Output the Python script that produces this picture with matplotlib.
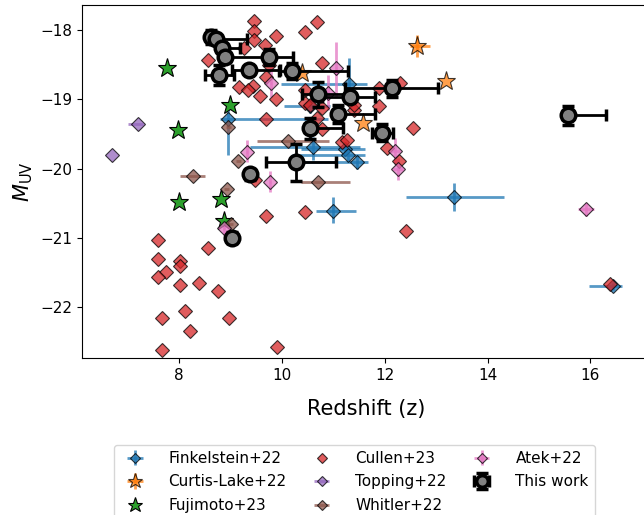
import matplotlib
matplotlib.use("Agg")
import matplotlib.pyplot as plt
import numpy as np

# This work
work_z = [8.62, 8.71, 8.84, 8.89, 9.75, 9.36, 8.78, 10.19, 10.69, 11.32, 12.13,
          11.09, 10.54, 11.94, 10.28, 9.38, 9.03, 15.57]
work_m = [-18.10, -18.13, -18.26, -18.39, -18.39, -18.57, -18.65, -18.59, -18.93,
          -18.96, -18.84, -19.21, -19.42, -19.48, -19.91, -20.08, -21.00, -19.23]
work_zlo = [0.05, 0.10, 0.10, 0.10, 0.80, 0.34, 0.28, 0.25, 0.30, 0.55, 0.90,
            0.10, 0.10, 0.20, 0.60, 0.10, 0.08, 0.10]
work_zhi = [0.05, 0.60, 0.35, 0.10, 0.46, 0.60, 0.28, 1.10, 0.65, 0.49, 0.90,
            0.71, 0.65, 0.22, 0.76, 0.10, 0.08, 0.73]
work_merr = [0.10, 0.05, 0.05, 0.05, 0.11, 0.05, 0.14, 0.12, 0.18, 0.05, 0.12,
             0.13, 0.15, 0.12, 0.27, 0.08, 0.08, 0.14]

# Finkelstein+22
fink_z = [8.95, 10.60, 11.23, 11.29, 11.46, 11.30, 10.54, 10.99, 13.35, 16.44]
fink_m = [-19.28, -19.69, -19.71, -19.80, -19.90, -18.78, -19.10, -20.61, -20.41, -21.70]
fink_zlo = [0.16, 1.23, 0.87, 1.10, 1.12, 1.33, 0.50, 0.33, 0.93, 0.47]
fink_zhi = [1.95, 0.91, 0.39, 0.33, 0.21, 0.35, 0.40, 0.45, 0.97, 0.17]
fink_mlo = [0.52, 0.19, 0.10, 0.10, 0.10, 0.16, 0.10, 0.18, 0.20, 0.05]
fink_mhi = [0.13, 0.15, 0.10, 0.10, 0.10, 0.38, 0.10, 0.20, 0.20, 0.05]

# Curtis-Lake+22
cl_z = [12.62, 13.19, 11.57, 10.38]
cl_m = [-18.23, -18.73, -19.34, -18.62]
cl_zlo = [0.13, 0.0, 0.0, 0.0]
cl_zhi = [0.25, 0.0, 0.0, 0.0]
cl_merr = [0.16, 0.0, 0.0, 0.0]

# Fujimoto+23
fuji_z = [7.77, 8.99, 7.98, 8.00, 8.81, 8.87]
fuji_m = [-18.55, -19.08, -19.44, -20.48, -20.44, -20.75]

# Cullen+23
cullen_z = [9.46, 10.67, 9.46, 10.45, 9.88, 9.46, 9.67, 9.25, 8.56, 10.78, 9.68,
            9.44, 9.16, 9.34, 9.57, 9.88, 10.45, 10.45, 10.54, 10.78, 10.67, 9.68,
            10.78, 11.16, 11.26, 11.39, 9.75, 9.47, 12.29, 11.89, 11.89, 11.39,
            12.55, 12.04, 12.28, 9.68, 10.45, 7.58, 7.58, 8.01, 8.01, 7.74, 7.58,
            8.56, 8.01, 8.38, 8.76, 8.11, 7.66, 8.97, 8.20, 7.66, 9.90, 12.41, 16.38]
cullen_m = [-17.87, -17.88, -18.02, -18.03, -18.08, -18.14, -18.21, -18.26, -18.43,
            -18.47, -18.68, -18.81, -18.82, -18.87, -18.95, -18.99, -18.87, -19.06,
            -19.08, -19.13, -19.27, -19.28, -19.43, -19.61, -19.59, -19.15, -18.51,
            -20.16, -18.76, -18.84, -19.10, -19.08, -19.42, -19.70, -19.89, -20.68,
            -20.62, -21.03, -21.30, -21.33, -21.41, -21.49, -21.57, -21.15, -21.68,
            -21.65, -21.76, -22.05, -22.15, -22.16, -22.35, -22.62, -22.57, -20.90,
            -21.67]

# Topping+22
top_z = [7.19, 6.70]
top_m = [-19.36, -19.80]
top_zlo = [0.18, 0.0]
top_zhi = [0.11, 0.0]

# Whitler+22
whit_z = [8.95, 10.11, 9.15, 8.27, 8.92, 10.70, 9.00]
whit_m = [-19.40, -19.60, -19.89, -20.10, -20.30, -20.20, -20.80]
whit_zlo = [0.05, 0.60, 0.05, 0.26, 0.05, 0.33, 0.05]
whit_zhi = [0.05, 0.80, 0.05, 0.23, 0.05, 0.62, 0.05]

# Atek+22
atek_z = [9.31, 9.76, 9.78, 11.04, 10.90, 12.20, 12.26, 15.91, 8.87]
atek_m = [-19.76, -20.19, -18.76, -18.55, -18.91, -19.75, -20.01, -20.59, -20.86]
atek_zerr = [0.02, 0.02, 0.02, 0.02, 0.02, 0.10, 0.10, 0.15, 0.02]
atek_mlo = [0.14, 0.15, 0.20, 0.41, 0.25, 0.19, 0.15, 0.10, 0.10]
atek_mhi = [0.17, 0.15, 0.23, 0.38, 0.26, 0.19, 0.17, 0.10, 0.05]

plt.rcParams['font.family'] = 'DejaVu Sans'

fig = plt.figure(figsize=(6.44, 5.15), dpi=100)
ax = fig.add_axes([0.1273, 0.3049, 0.882, 0.6854])

ekw = dict(alpha=0.75, elinewidth=2, capsize=0)

ax.errorbar(fink_z, fink_m, xerr=[fink_zlo, fink_zhi], yerr=[fink_mlo, fink_mhi],
            fmt='D', color='C0', ms=7, mec='k', mew=0.8, label='Finkelstein+22', **ekw)
ax.errorbar(cl_z, cl_m, xerr=[cl_zlo, cl_zhi], yerr=cl_merr,
            fmt='*', color='C1', ms=14, mec='k', mew=0.8, label='Curtis-Lake+22', **ekw)
ax.errorbar(fuji_z, fuji_m, fmt='*', color='C2', ms=14, mec='k', mew=0.8,
            label='Fujimoto+23')
ax.errorbar(cullen_z, cullen_m, fmt='D', color='C3', ms=7, mec='k', mew=0.8,
            alpha=0.75, label='Cullen+23')
ax.errorbar(top_z, top_m, xerr=[top_zlo, top_zhi], fmt='D', color='C4', ms=7,
            mec='k', mew=0.8, label='Topping+22', **ekw)
ax.errorbar(whit_z, whit_m, xerr=[whit_zlo, whit_zhi], fmt='D', color='C5', ms=7,
            mec='k', mew=0.8, label='Whitler+22', **ekw)
ax.errorbar(atek_z, atek_m, xerr=atek_zerr, yerr=[atek_mlo, atek_mhi], fmt='D',
            color='C6', ms=7, mec='k', mew=0.8, label='Atek+22', **ekw)
ax.errorbar(work_z, work_m, xerr=[work_zlo, work_zhi], yerr=work_merr, fmt='o',
            color='k', mfc='grey', mec='k', ms=10.5, mew=2.5, elinewidth=2,
            capsize=4, capthick=2, label='This work', zorder=5)

ax.set_xlim(6.107, 17.158)
ax.set_ylim(-22.733, -17.639)
ax.set_xticks([8, 10, 12, 14, 16])
ax.set_yticks([-22, -21, -20, -19, -18])
ax.tick_params(labelsize=11)
ax.set_xlabel('Redshift (z)', fontsize=15)
ax.xaxis.set_label_coords(0.5, -0.115)
ax.set_ylabel(r'$M_{\rm UV}$', fontsize=15)

fig.legend(loc='upper center', bbox_to_anchor=(0.55, 0.136), ncol=3, fontsize=11,
           handletextpad=1.2, columnspacing=1.3, labelspacing=0.55,
           markerscale=0.8, borderaxespad=0)

fig.savefig('out.png', dpi=100)
